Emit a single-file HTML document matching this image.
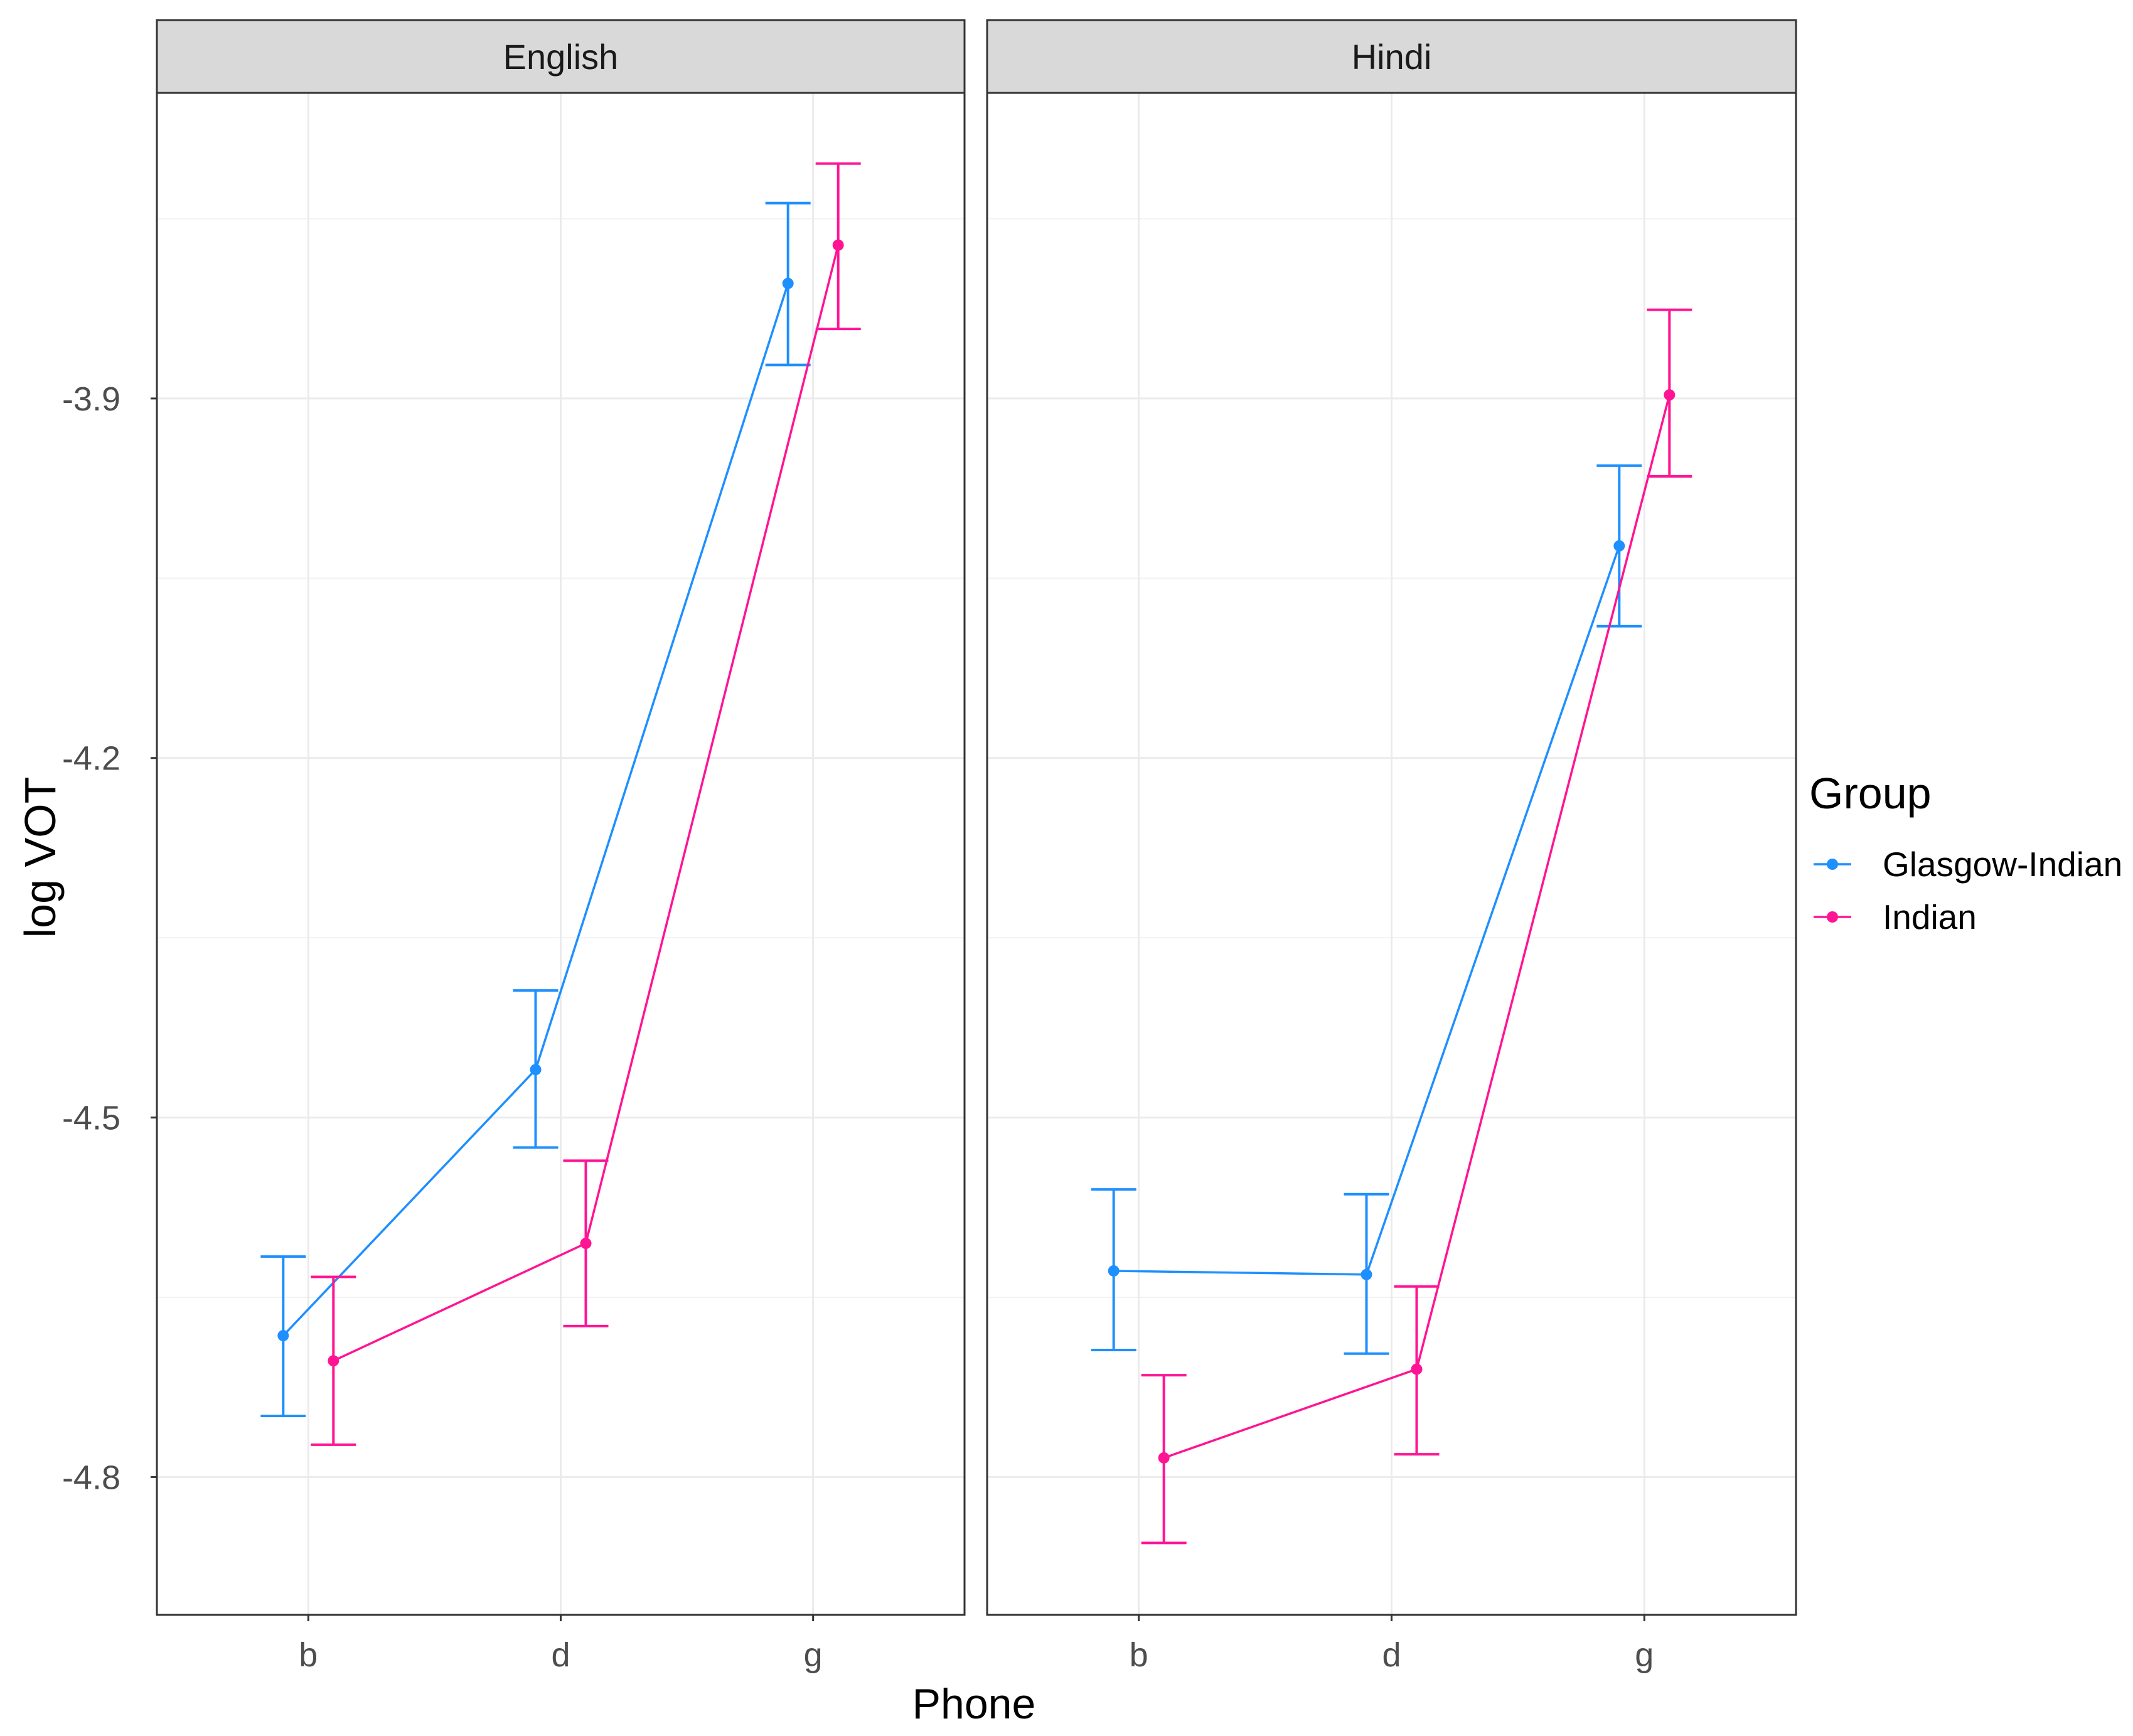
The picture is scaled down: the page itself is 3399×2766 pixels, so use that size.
<!DOCTYPE html>
<html><head><meta charset="utf-8"><style>
html,body{margin:0;padding:0;background:#fff;}
svg{display:block;font-family:"Liberation Sans",Arial,sans-serif;}
</style></head><body>
<svg id="chart" width="3399" height="2766" viewBox="0 0 3399 2766" xmlns="http://www.w3.org/2000/svg">
<rect width="3399" height="2766" fill="#fff"/>
<g id="layer"></g>
</svg>
<script>
const panels = ["English", "Hindi"];
const phones = ["b", "d", "g"];
const groups = ["Glasgow-Indian", "Indian"];
const colors = ["#1E8FFF", "#FF1493"];
const yTicks = [-3.9, -4.2, -4.5, -4.8];
const yTickLabels = ["-3.9", "-4.2", "-4.5", "-4.8"];
const engGlasgowMean = [-4.682, -4.460, -3.804];
const engGlasgowLo = [-4.749, -4.525, -3.872];
const engGlasgowHi = [-4.616, -4.394, -3.737];
const engIndianMean = [-4.703, -4.605, -3.772];
const engIndianLo = [-4.773, -4.674, -3.842];
const engIndianHi = [-4.633, -4.536, -3.704];
const hinGlasgowMean = [-4.628, -4.631, -4.023];
const hinGlasgowLo = [-4.694, -4.697, -4.090];
const hinGlasgowHi = [-4.560, -4.564, -3.956];
const hinIndianMean = [-4.784, -4.710, -3.897];
const hinIndianLo = [-4.855, -4.781, -3.965];
const hinIndianHi = [-4.715, -4.641, -3.826];

const series = [
  [[engGlasgowMean, engGlasgowLo, engGlasgowHi], [engIndianMean, engIndianLo, engIndianHi]],
  [[hinGlasgowMean, hinGlasgowLo, hinGlasgowHi], [hinIndianMean, hinIndianLo, hinIndianHi]]
];

const NS = "http://www.w3.org/2000/svg";
const layer = document.getElementById("layer");
function mk(tag, attrs, parent) {
  const e = document.createElementNS(NS, tag);
  for (const k in attrs) e.setAttribute(k, attrs[k]);
  (parent || layer).appendChild(e);
  return e;
}
const panelX = [[250, 1537], [1573, 2862]];
const stripTop = 32, plotTop = 148, plotBottom = 2573;
const yMax = -3.645, yMin = -4.915;
function yScale(v) { return plotTop + (yMax - v) / (yMax - yMin) * (plotBottom - plotTop); }
function xScale(p, i) {
  const [l, r] = panelX[p];
  const step = (r - l) / 3.2;
  return l + step * 0.6 + i * step;
}
const dodge = 40;

panels.forEach((name, p) => {
  const [l, r] = panelX[p];
  const g = mk("g", {});
  
  
  const strip = mk("rect", {x: l, y: stripTop, width: r - l, height: plotTop - stripTop, fill: "#d9d9d9", stroke: "#333", "stroke-width": 3}, g);
  
  
  const st = mk("text", {x: (l + r) / 2, y: (stripTop + plotTop) / 2 + 20, "text-anchor": "middle", "font-size": 56, fill: "#1a1a1a"}, g);
  st.textContent = name;
  
  
  for (let k = 0; k < yTicks.length + 1; k++) {
    const v = -3.75 - 0.3 * k;
    const y = yScale(v);
    if (y > plotTop && y < plotBottom) {
      const ln = mk("line", {x1: l, x2: r, y1: y, y2: y, stroke: "#f2f2f2", "stroke-width": 2}, g);
      
      
    }
  }
  yTicks.forEach((v, k) => {
    const y = yScale(v);
    const ln = mk("line", {x1: l, x2: r, y1: y, y2: y, stroke: "#ebebeb", "stroke-width": 3}, g);
    
    
    if (p === 0) {
      const tk = mk("line", {x1: l - 10, x2: l, y1: y, y2: y, stroke: "#333", "stroke-width": 3}, g);
      
      
      const t = mk("text", {x: 192, y: y + 19, "text-anchor": "end", "font-size": 54, fill: "#4d4d4d"}, g);
      t.textContent = yTickLabels[k];
      
      
    }
  });
  phones.forEach((ph, i) => {
    const x = xScale(p, i);
    const ln = mk("line", {x1: x, x2: x, y1: plotTop, y2: plotBottom, stroke: "#ebebeb", "stroke-width": 3}, g);
    
    
    const tk = mk("line", {x1: x, x2: x, y1: plotBottom, y2: plotBottom + 10, stroke: "#333", "stroke-width": 3}, g);
    
    
    const t = mk("text", {x: x, y: plotBottom + 82, "text-anchor": "middle", "font-size": 54, fill: "#4d4d4d"}, g);
    t.textContent = ph;
    
    
  });
  groups.forEach((gr, s) => {
    const [mean, lo, hi] = series[p][s];
    const off = s === 0 ? -dodge : dodge;
    const col = colors[s];
    const pts = mean.map((v, i) => (xScale(p, i) + off) + "," + yScale(v)).join(" ");
    const pl = mk("polyline", {points: pts, fill: "none", stroke: col, "stroke-width": 3.5}, g);
    
    
    mean.forEach((v, i) => {
      const x = xScale(p, i) + off;
      const eb = mk("path", {d: `M${x-36},${yScale(hi[i])}H${x+36}M${x},${yScale(hi[i])}V${yScale(lo[i])}M${x-36},${yScale(lo[i])}H${x+36}`, stroke: col, "stroke-width": 4, fill: "none"}, g);
      
      
      const c = mk("circle", {cx: x, cy: yScale(v), r: 9, fill: col}, g);
      
      
    });
  });
  const border = mk("rect", {x: l, y: plotTop, width: r - l, height: plotBottom - plotTop, fill: "none", stroke: "#333", "stroke-width": 3}, g);
  
  
});

const xt = mk("text", {x: 1552, y: 2738, "text-anchor": "middle", "font-size": 68, fill: "#000"});
xt.textContent = "Phone";


const yt = mk("text", {x: 0, y: 0, "text-anchor": "middle", "font-size": 70, fill: "#000", transform: "translate(88,1366) rotate(-90)"});
yt.textContent = "log VOT";



const lg = mk("g", {});


const lt = mk("text", {x: 2883, y: 1288, "font-size": 70, fill: "#000"}, lg);
lt.textContent = "Group";


groups.forEach((gr, s) => {
  const y = 1377 + s * 84;
  const e = mk("g", {}, lg);
  
  
  mk("line", {x1: 2890, x2: 2950, y1: y, y2: y, stroke: colors[s], "stroke-width": 3.5}, e);
  mk("circle", {cx: 2920, cy: y, r: 9, fill: colors[s]}, e);
  const t = mk("text", {x: 3000, y: y + 19, "font-size": 55, fill: "#000"}, e);
  t.textContent = gr;
});
</script>
</body></html>
